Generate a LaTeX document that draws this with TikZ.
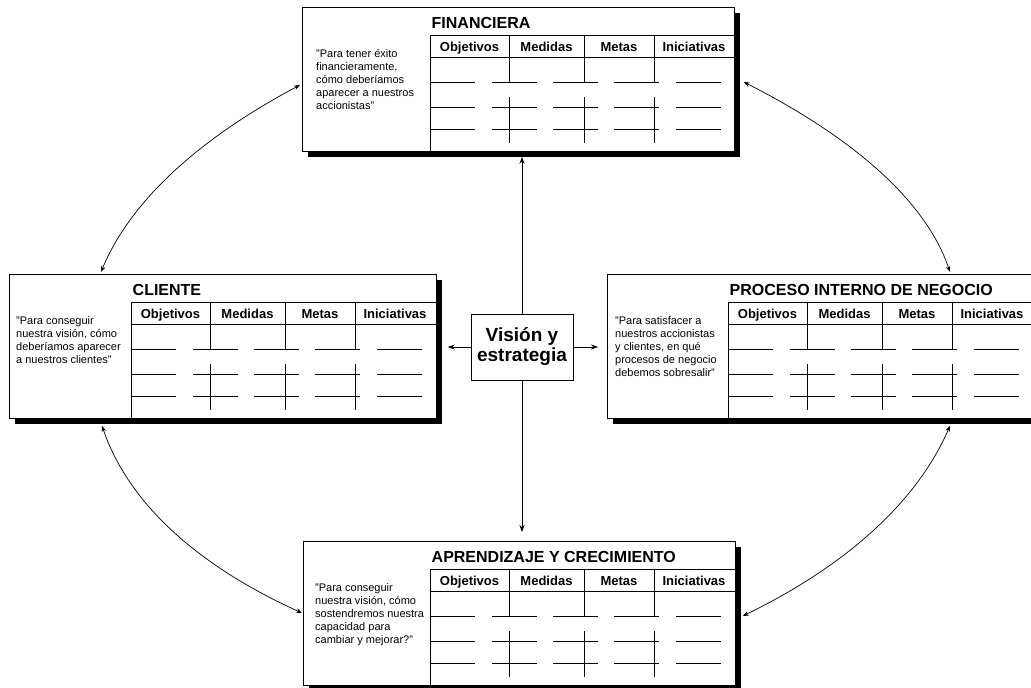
\documentclass[tikz,border=0pt]{standalone}
\usepackage{fontspec}
\setmainfont{Liberation Sans}
\usetikzlibrary{arrows.meta,calc,shadows}

\tikzset{
  card/.style={draw=black, fill=white, line width=0.8pt, inner sep=0pt,
    anchor=north west, minimum height=144pt,
    drop shadow={shadow xshift=6pt, shadow yshift=-6pt, opacity=1, fill=black}},
  rule/.style={draw=black, line width=0.8pt},
  cardtitle/.style={anchor=base west, inner sep=0pt,
    font=\fontsize{16}{19}\selectfont\bfseries},
  colhead/.style={anchor=base, inner sep=0pt,
    font=\fontsize{13}{15}\selectfont\bfseries},
  quote/.style={anchor=north west, inner sep=0pt, align=left,
    font=\fontsize{11}{13}\selectfont},
  vision/.style={draw=black, fill=white, line width=0.8pt, minimum width=102pt,
    minimum height=66pt, align=center, inner sep=0pt,
    font=\fontsize{19}{20}\selectfont\bfseries},
  link/.style={line width=0.7pt,
    {Stealth[length=6pt,width=4.5pt]}-{Stealth[length=6pt,width=4.5pt]}},
  ray/.style={line width=0.7pt, -{Stealth[length=7pt,width=5pt]}},
}

% One perspective card: #1 name, #2/#3 top-left corner, #4 width,
% #5 left edge of the table, #6 title, #7 left edge of the question, #8 question
\newcommand\bsccard[8]{%
  \begin{scope}[shift={(#2,#3)}]
    \node[card, minimum width=#4pt] (#1) at (0,0) {};
    \draw[rule] (#5,28) -- (#4,28) (#5,28) -- (#5,144) (#5,50) -- (#4,50);
    \node[cardtitle] (#1-title) at (#5+1.5,21.5) {#6};
    \foreach \c/\t [count=\i] in {39.5/Objetivos,116.5/Medidas,189/Metas,264/Iniciativas}
      \node[colhead] (#1-head\i) at (#5+\c,44) {\t};
    \foreach \r in {75,100,122}
      \foreach \s in {0,62,123,184,246}
        \draw[rule] (#5+\s,\r) -- ++(45,0);
    \foreach \v in {79,154,224}
      \draw[rule] (#5+\v,28) -- (#5+\v,75) (#5+\v,90) -- (#5+\v,136);
    \node[quote] (#1-quote) at (#7,42) {#8};
  \end{scope}}

\begin{document}
\begin{tikzpicture}[x=1pt,y=-1pt]
  \useasboundingbox (0,0) rectangle (1031,688);
  \clip (0,0) rectangle (1031,688);

  \bsccard{fin}{302}{7}{432}{128}{FINANCIERA}{14}%
    {"Para tener éxito\\financieramente,\\cómo deberíamos\\aparecer a nuestros\\accionistas"}
  \bsccard{cli}{9}{274}{427}{122}{CLIENTE}{7}%
    {"Para conseguir\\nuestra visión, cómo\\deberíamos aparecer\\a nuestros clientes"}
  \bsccard{pro}{607}{274}{426}{121}{PROCESO INTERNO DE NEGOCIO}{8}%
    {"Para satisfacer a\\nuestros accionistas\\y clientes, en qué\\procesos de negocio\\debemos sobresalir"}
  \bsccard{apr}{303}{541}{432}{127}{APRENDIZAJE Y CRECIMIENTO}{12}%
    {"Para conseguir\\nuestra visión, cómo\\sostendremos nuestra\\capacidad para\\cambiar y mejorar?"}

  \node[vision] (vis) at (522,347) {Visión y\\estrategia};

  % spokes from the centre to the four cards
  \draw[ray] (vis.north) -- ($(vis.north |- fin.south)+(0,5)$);
  \draw[ray] (vis.south) -- ($(vis.south |- apr.north)+(0,-9)$);
  \draw[ray] (vis.west) -- ($(vis.west -| cli.east)+(11,0)$);
  \draw[ray] (vis.east) -- ($(vis.east -| pro.west)+(-9,0)$);

  % curved two-way links around the ring
  \draw[link] ($(cli.north west)+(92,-2)$) .. controls (129.7,202.7) and (196,140.3) .. ($(fin.north west)+(-2,78)$);
  \draw[link] ($(fin.north east)+(9,75)$) .. controls (857.7,140) and (926.7,203.3) .. ($(pro.north west)+(343,-2)$);
  \draw[link] ($(cli.south west)+(93,7)$) .. controls (128,501.7) and (194.7,564.3) .. ($(apr.north west)+(-1,72)$);
  \draw[link] ($(pro.south west)+(343,7)$) .. controls (917.3,501) and (848,564.7) .. ($(apr.north east)+(7,75)$);
\end{tikzpicture}
\end{document}
